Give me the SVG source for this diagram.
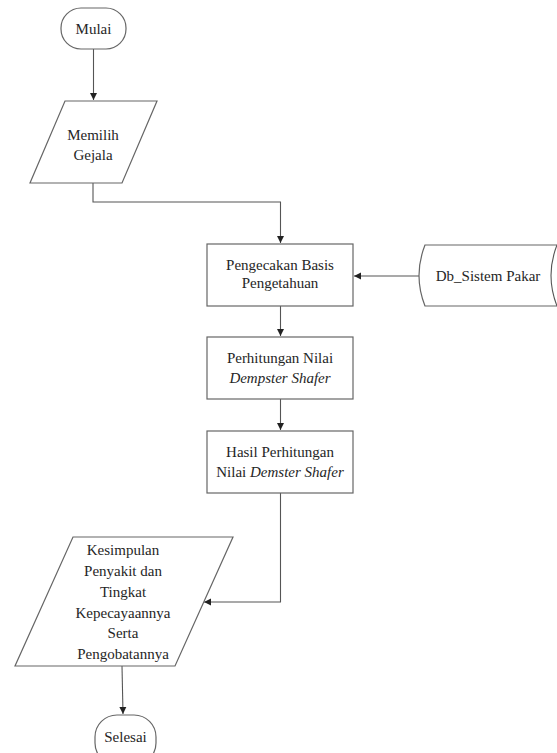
<svg xmlns="http://www.w3.org/2000/svg" width="557" height="753" viewBox="0 0 557 753">
<style>
.s{fill:#fff;stroke:#666;stroke-width:1.2}
.c{fill:none;stroke:#555;stroke-width:1.1}
.t text{font-size:15px;fill:#262626;text-anchor:middle}
.i{font-style:italic}
</style>
<defs>
<marker id="a" markerWidth="8" markerHeight="8" refX="7" refY="4" orient="auto" markerUnits="userSpaceOnUse">
<path d="M0,0.5 L7,4 L0,7.5 Z" fill="#222"/>
</marker>
</defs>
<rect width="557" height="753" fill="#fff"/>
<g id="connectors">
<path class="c" d="M93.5,49 V100" marker-end="url(#a)"/>
<path class="c" d="M93,183 V202 H280.5 V243" marker-end="url(#a)"/>
<path class="c" d="M420,276 H354" marker-end="url(#a)"/>
<path class="c" d="M280.5,306 V336" marker-end="url(#a)"/>
<path class="c" d="M280.5,399 V430" marker-end="url(#a)"/>
<path class="c" d="M280.5,493 V602 H204" marker-end="url(#a)"/>
<path class="c" d="M122,666 L123,714" marker-end="url(#a)"/>
</g>
<g class="t" font-family="Liberation Serif, Times New Roman, serif">
<g id="mulai">
<rect class="s" x="61" y="8" width="65" height="41" rx="20" ry="20"/>
<text x="93.5" y="34">Mulai</text>
</g>
<g id="memilih">
<polygon class="s" points="65,101 157,101 122,183 30,183"/>
<text x="93" y="140">Memilih</text>
<text x="93" y="160">Gejala</text>
</g>
<g id="pengecakan">
<rect class="s" x="207" y="244" width="146" height="62"/>
<text x="280" y="270">Pengecakan Basis</text>
<text x="280" y="288">Pengetahuan</text>
</g>
<g id="db">
<path class="s" d="M425,245 H560 V306 H425 Q413,275.5 425,245 Z"/>
<path class="c" d="M557,245 Q545,275.5 557,306"/>
<text x="488" y="281">Db_Sistem  Pakar</text>
</g>
<g id="perhitungan">
<rect class="s" x="207" y="337" width="146" height="62"/>
<text x="280" y="363">Perhitungan Nilai</text>
<text x="280" y="383" class="i">Dempster Shafer</text>
</g>
<g id="hasil">
<rect class="s" x="207" y="431" width="146" height="62"/>
<text x="280" y="457">Hasil Perhitungan</text>
<text x="280" y="477">Nilai <tspan class="i">Demster Shafer</tspan></text>
</g>
<g id="kesimpulan">
<polygon class="s" points="73,537 233,537 175,666 15,666"/>
<text x="123" y="555">Kesimpulan</text>
<text x="123" y="576">Penyakit dan</text>
<text x="123" y="597">Tingkat</text>
<text x="123" y="618">Kepecayaannya</text>
<text x="123" y="638">Serta</text>
<text x="123" y="659">Pengobatannya</text>
</g>
<g id="selesai">
<rect class="s" x="95" y="715" width="61" height="50" rx="22" ry="22"/>
<text x="125.5" y="742">Selesai</text>
</g>
</g>
</svg>
